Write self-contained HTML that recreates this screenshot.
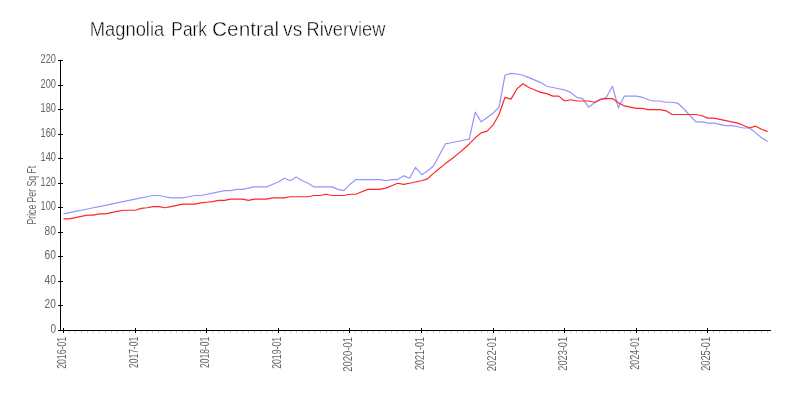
<!DOCTYPE html>
<html><head><meta charset="utf-8"><style>
html,body{margin:0;padding:0;background:#fff;}
body{width:800px;height:400px;overflow:hidden;}
svg{display:block;font-family:"Liberation Sans",sans-serif;will-change:transform;}
.ax{stroke:#000;stroke-width:1;shape-rendering:crispEdges;}
.mt{stroke:#d0d0d0;stroke-width:1;shape-rendering:crispEdges;}
.tl{font-size:12.5px;fill:#666;}
</style></head><body>
<svg width="800" height="400" viewBox="0 0 800 400">
<rect width="800" height="400" fill="#fff"/>
<g font-size="20.5" fill="#000" stroke="#fff" stroke-width="0.45"><text x="89.80" y="35.8" textLength="74.40" lengthAdjust="spacingAndGlyphs">Magnolia</text><text x="171.30" y="35.8" textLength="35.70" lengthAdjust="spacingAndGlyphs">Park</text><text x="212.10" y="35.8" textLength="67.10" lengthAdjust="spacingAndGlyphs">Central</text><text x="283.10" y="35.8" textLength="19.10" lengthAdjust="spacingAndGlyphs">vs</text><text x="306.60" y="35.8" textLength="78.70" lengthAdjust="spacingAndGlyphs">Riverview</text></g>
<text transform="translate(36.2,195.2) rotate(-90)" font-size="12.5" fill="#666" text-anchor="middle" textLength="58.5" lengthAdjust="spacingAndGlyphs">Price Per Sq Ft</text>
<line x1="60.5" y1="60" x2="60.5" y2="331" class="ax"/>
<line x1="58" y1="330.5" x2="771" y2="330.5" class="ax"/>
<line x1="58" y1="330.5" x2="63" y2="330.5" class="ax"/>
<text x="56" y="332.7" class="tl" text-anchor="end" textLength="5.6" lengthAdjust="spacingAndGlyphs">0</text>
<line x1="58" y1="305.5" x2="63" y2="305.5" class="ax"/>
<text x="56" y="307.7" class="tl" text-anchor="end" textLength="11.4" lengthAdjust="spacingAndGlyphs">20</text>
<line x1="58" y1="281.5" x2="63" y2="281.5" class="ax"/>
<text x="56" y="283.7" class="tl" text-anchor="end" textLength="11.4" lengthAdjust="spacingAndGlyphs">40</text>
<line x1="58" y1="256.5" x2="63" y2="256.5" class="ax"/>
<text x="56" y="258.7" class="tl" text-anchor="end" textLength="11.4" lengthAdjust="spacingAndGlyphs">60</text>
<line x1="58" y1="232.5" x2="63" y2="232.5" class="ax"/>
<text x="56" y="234.7" class="tl" text-anchor="end" textLength="11.4" lengthAdjust="spacingAndGlyphs">80</text>
<line x1="58" y1="207.5" x2="63" y2="207.5" class="ax"/>
<text x="56" y="209.7" class="tl" text-anchor="end" textLength="15.4" lengthAdjust="spacingAndGlyphs">100</text>
<line x1="58" y1="183.5" x2="63" y2="183.5" class="ax"/>
<text x="56" y="185.7" class="tl" text-anchor="end" textLength="15.4" lengthAdjust="spacingAndGlyphs">120</text>
<line x1="58" y1="158.5" x2="63" y2="158.5" class="ax"/>
<text x="56" y="160.7" class="tl" text-anchor="end" textLength="15.4" lengthAdjust="spacingAndGlyphs">140</text>
<line x1="58" y1="134.5" x2="63" y2="134.5" class="ax"/>
<text x="56" y="136.7" class="tl" text-anchor="end" textLength="15.4" lengthAdjust="spacingAndGlyphs">160</text>
<line x1="58" y1="109.5" x2="63" y2="109.5" class="ax"/>
<text x="56" y="111.7" class="tl" text-anchor="end" textLength="15.4" lengthAdjust="spacingAndGlyphs">180</text>
<line x1="58" y1="85.5" x2="63" y2="85.5" class="ax"/>
<text x="56" y="87.7" class="tl" text-anchor="end" textLength="15.4" lengthAdjust="spacingAndGlyphs">200</text>
<line x1="58" y1="60.5" x2="63" y2="60.5" class="ax"/>
<text x="56" y="62.7" class="tl" text-anchor="end" textLength="15.4" lengthAdjust="spacingAndGlyphs">220</text>
<line x1="63.5" y1="328" x2="63.5" y2="333" class="ax"/>
<text transform="translate(66.3,336.9) rotate(-90)" class="tl" text-anchor="end" textLength="31.900000000000002" lengthAdjust="spacingAndGlyphs">2016-01</text>
<line x1="69.5" y1="331" x2="69.5" y2="333" class="mt"/>
<line x1="75.5" y1="331" x2="75.5" y2="333" class="mt"/>
<line x1="81.5" y1="331" x2="81.5" y2="333" class="mt"/>
<line x1="87.5" y1="331" x2="87.5" y2="333" class="mt"/>
<line x1="93.5" y1="331" x2="93.5" y2="333" class="mt"/>
<line x1="99.5" y1="331" x2="99.5" y2="333" class="mt"/>
<line x1="105.5" y1="331" x2="105.5" y2="333" class="mt"/>
<line x1="111.5" y1="331" x2="111.5" y2="333" class="mt"/>
<line x1="117.5" y1="331" x2="117.5" y2="333" class="mt"/>
<line x1="123.5" y1="331" x2="123.5" y2="333" class="mt"/>
<line x1="129.5" y1="331" x2="129.5" y2="333" class="mt"/>
<line x1="135.5" y1="328" x2="135.5" y2="333" class="ax"/>
<text transform="translate(138.3,336.9) rotate(-90)" class="tl" text-anchor="end" textLength="31.1" lengthAdjust="spacingAndGlyphs">2017-01</text>
<line x1="141.5" y1="331" x2="141.5" y2="333" class="mt"/>
<line x1="147.5" y1="331" x2="147.5" y2="333" class="mt"/>
<line x1="152.5" y1="331" x2="152.5" y2="333" class="mt"/>
<line x1="158.5" y1="331" x2="158.5" y2="333" class="mt"/>
<line x1="164.5" y1="331" x2="164.5" y2="333" class="mt"/>
<line x1="170.5" y1="331" x2="170.5" y2="333" class="mt"/>
<line x1="176.5" y1="331" x2="176.5" y2="333" class="mt"/>
<line x1="182.5" y1="331" x2="182.5" y2="333" class="mt"/>
<line x1="188.5" y1="331" x2="188.5" y2="333" class="mt"/>
<line x1="194.5" y1="331" x2="194.5" y2="333" class="mt"/>
<line x1="200.5" y1="331" x2="200.5" y2="333" class="mt"/>
<line x1="206.5" y1="328" x2="206.5" y2="333" class="ax"/>
<text transform="translate(209.3,336.9) rotate(-90)" class="tl" text-anchor="end" textLength="31.1" lengthAdjust="spacingAndGlyphs">2018-01</text>
<line x1="212.5" y1="331" x2="212.5" y2="333" class="mt"/>
<line x1="218.5" y1="331" x2="218.5" y2="333" class="mt"/>
<line x1="224.5" y1="331" x2="224.5" y2="333" class="mt"/>
<line x1="230.5" y1="331" x2="230.5" y2="333" class="mt"/>
<line x1="236.5" y1="331" x2="236.5" y2="333" class="mt"/>
<line x1="242.5" y1="331" x2="242.5" y2="333" class="mt"/>
<line x1="248.5" y1="331" x2="248.5" y2="333" class="mt"/>
<line x1="254.5" y1="331" x2="254.5" y2="333" class="mt"/>
<line x1="260.5" y1="331" x2="260.5" y2="333" class="mt"/>
<line x1="266.5" y1="331" x2="266.5" y2="333" class="mt"/>
<line x1="272.5" y1="331" x2="272.5" y2="333" class="mt"/>
<line x1="278.5" y1="328" x2="278.5" y2="333" class="ax"/>
<text transform="translate(281.3,336.9) rotate(-90)" class="tl" text-anchor="end" textLength="31.900000000000002" lengthAdjust="spacingAndGlyphs">2019-01</text>
<line x1="284.5" y1="331" x2="284.5" y2="333" class="mt"/>
<line x1="290.5" y1="331" x2="290.5" y2="333" class="mt"/>
<line x1="296.5" y1="331" x2="296.5" y2="333" class="mt"/>
<line x1="302.5" y1="331" x2="302.5" y2="333" class="mt"/>
<line x1="308.5" y1="331" x2="308.5" y2="333" class="mt"/>
<line x1="314.5" y1="331" x2="314.5" y2="333" class="mt"/>
<line x1="320.5" y1="331" x2="320.5" y2="333" class="mt"/>
<line x1="326.5" y1="331" x2="326.5" y2="333" class="mt"/>
<line x1="331.5" y1="331" x2="331.5" y2="333" class="mt"/>
<line x1="337.5" y1="331" x2="337.5" y2="333" class="mt"/>
<line x1="343.5" y1="331" x2="343.5" y2="333" class="mt"/>
<line x1="349.5" y1="328" x2="349.5" y2="333" class="ax"/>
<text transform="translate(352.3,336.9) rotate(-90)" class="tl" text-anchor="end" textLength="34.8" lengthAdjust="spacingAndGlyphs">2020-01</text>
<line x1="355.5" y1="331" x2="355.5" y2="333" class="mt"/>
<line x1="361.5" y1="331" x2="361.5" y2="333" class="mt"/>
<line x1="367.5" y1="331" x2="367.5" y2="333" class="mt"/>
<line x1="373.5" y1="331" x2="373.5" y2="333" class="mt"/>
<line x1="379.5" y1="331" x2="379.5" y2="333" class="mt"/>
<line x1="385.5" y1="331" x2="385.5" y2="333" class="mt"/>
<line x1="391.5" y1="331" x2="391.5" y2="333" class="mt"/>
<line x1="397.5" y1="331" x2="397.5" y2="333" class="mt"/>
<line x1="403.5" y1="331" x2="403.5" y2="333" class="mt"/>
<line x1="409.5" y1="331" x2="409.5" y2="333" class="mt"/>
<line x1="415.5" y1="331" x2="415.5" y2="333" class="mt"/>
<line x1="421.5" y1="328" x2="421.5" y2="333" class="ax"/>
<text transform="translate(424.3,336.9) rotate(-90)" class="tl" text-anchor="end" textLength="33.1" lengthAdjust="spacingAndGlyphs">2021-01</text>
<line x1="427.5" y1="331" x2="427.5" y2="333" class="mt"/>
<line x1="433.5" y1="331" x2="433.5" y2="333" class="mt"/>
<line x1="439.5" y1="331" x2="439.5" y2="333" class="mt"/>
<line x1="445.5" y1="331" x2="445.5" y2="333" class="mt"/>
<line x1="451.5" y1="331" x2="451.5" y2="333" class="mt"/>
<line x1="457.5" y1="331" x2="457.5" y2="333" class="mt"/>
<line x1="463.5" y1="331" x2="463.5" y2="333" class="mt"/>
<line x1="469.5" y1="331" x2="469.5" y2="333" class="mt"/>
<line x1="475.5" y1="331" x2="475.5" y2="333" class="mt"/>
<line x1="481.5" y1="331" x2="481.5" y2="333" class="mt"/>
<line x1="487.5" y1="331" x2="487.5" y2="333" class="mt"/>
<line x1="493.5" y1="328" x2="493.5" y2="333" class="ax"/>
<text transform="translate(496.3,336.9) rotate(-90)" class="tl" text-anchor="end" textLength="34.3" lengthAdjust="spacingAndGlyphs">2022-01</text>
<line x1="499.5" y1="331" x2="499.5" y2="333" class="mt"/>
<line x1="505.5" y1="331" x2="505.5" y2="333" class="mt"/>
<line x1="510.5" y1="331" x2="510.5" y2="333" class="mt"/>
<line x1="516.5" y1="331" x2="516.5" y2="333" class="mt"/>
<line x1="522.5" y1="331" x2="522.5" y2="333" class="mt"/>
<line x1="528.5" y1="331" x2="528.5" y2="333" class="mt"/>
<line x1="534.5" y1="331" x2="534.5" y2="333" class="mt"/>
<line x1="540.5" y1="331" x2="540.5" y2="333" class="mt"/>
<line x1="546.5" y1="331" x2="546.5" y2="333" class="mt"/>
<line x1="552.5" y1="331" x2="552.5" y2="333" class="mt"/>
<line x1="558.5" y1="331" x2="558.5" y2="333" class="mt"/>
<line x1="564.5" y1="328" x2="564.5" y2="333" class="ax"/>
<text transform="translate(567.3,336.9) rotate(-90)" class="tl" text-anchor="end" textLength="33.8" lengthAdjust="spacingAndGlyphs">2023-01</text>
<line x1="570.5" y1="331" x2="570.5" y2="333" class="mt"/>
<line x1="576.5" y1="331" x2="576.5" y2="333" class="mt"/>
<line x1="582.5" y1="331" x2="582.5" y2="333" class="mt"/>
<line x1="588.5" y1="331" x2="588.5" y2="333" class="mt"/>
<line x1="594.5" y1="331" x2="594.5" y2="333" class="mt"/>
<line x1="600.5" y1="331" x2="600.5" y2="333" class="mt"/>
<line x1="606.5" y1="331" x2="606.5" y2="333" class="mt"/>
<line x1="612.5" y1="331" x2="612.5" y2="333" class="mt"/>
<line x1="618.5" y1="331" x2="618.5" y2="333" class="mt"/>
<line x1="624.5" y1="331" x2="624.5" y2="333" class="mt"/>
<line x1="630.5" y1="331" x2="630.5" y2="333" class="mt"/>
<line x1="636.5" y1="328" x2="636.5" y2="333" class="ax"/>
<text transform="translate(639.3,336.9) rotate(-90)" class="tl" text-anchor="end" textLength="32.8" lengthAdjust="spacingAndGlyphs">2024-01</text>
<line x1="642.5" y1="331" x2="642.5" y2="333" class="mt"/>
<line x1="648.5" y1="331" x2="648.5" y2="333" class="mt"/>
<line x1="654.5" y1="331" x2="654.5" y2="333" class="mt"/>
<line x1="660.5" y1="331" x2="660.5" y2="333" class="mt"/>
<line x1="666.5" y1="331" x2="666.5" y2="333" class="mt"/>
<line x1="672.5" y1="331" x2="672.5" y2="333" class="mt"/>
<line x1="678.5" y1="331" x2="678.5" y2="333" class="mt"/>
<line x1="684.5" y1="331" x2="684.5" y2="333" class="mt"/>
<line x1="689.5" y1="331" x2="689.5" y2="333" class="mt"/>
<line x1="695.5" y1="331" x2="695.5" y2="333" class="mt"/>
<line x1="701.5" y1="331" x2="701.5" y2="333" class="mt"/>
<line x1="707.5" y1="328" x2="707.5" y2="333" class="ax"/>
<text transform="translate(710.3,336.9) rotate(-90)" class="tl" text-anchor="end" textLength="33.9" lengthAdjust="spacingAndGlyphs">2025-01</text>
<line x1="713.5" y1="331" x2="713.5" y2="333" class="mt"/>
<line x1="719.5" y1="331" x2="719.5" y2="333" class="mt"/>
<line x1="725.5" y1="331" x2="725.5" y2="333" class="mt"/>
<line x1="731.5" y1="331" x2="731.5" y2="333" class="mt"/>
<line x1="737.5" y1="331" x2="737.5" y2="333" class="mt"/>
<line x1="743.5" y1="331" x2="743.5" y2="333" class="mt"/>
<line x1="749.5" y1="331" x2="749.5" y2="333" class="mt"/>
<line x1="755.5" y1="331" x2="755.5" y2="333" class="mt"/>
<line x1="761.5" y1="331" x2="761.5" y2="333" class="mt"/>
<line x1="767.5" y1="331" x2="767.5" y2="333" class="mt"/>
<polyline points="63.50,213.91 69.47,212.68 75.43,211.45 81.40,210.23 87.37,209.00 93.33,207.77 99.30,206.55 105.27,205.32 111.23,204.09 117.20,202.86 123.17,201.64 129.13,200.41 135.10,199.18 141.07,197.95 147.03,196.73 153.00,195.50 158.97,195.50 164.93,196.73 170.90,197.95 176.87,197.95 182.83,197.95 188.80,196.73 194.77,195.50 200.73,195.50 206.70,194.27 212.67,193.05 218.63,191.82 224.60,190.59 230.57,190.59 236.53,189.36 242.50,189.36 248.47,188.14 254.43,186.91 260.40,186.91 266.37,186.91 272.33,184.45 278.30,182.00 284.27,178.32 290.23,180.77 296.20,177.09 302.17,180.77 308.13,183.23 314.10,186.91 320.07,186.91 326.03,186.91 332.00,186.91 337.97,189.36 343.93,190.59 349.90,184.45 355.87,179.55 361.83,179.55 367.80,179.55 373.77,179.55 379.73,179.55 385.70,180.77 391.67,179.55 397.63,179.55 403.60,175.86 409.57,178.32 415.53,167.27 421.50,174.64 427.47,170.95 433.43,166.05 439.40,155.00 445.37,143.95 451.33,142.73 457.30,141.50 463.27,140.27 469.23,139.05 475.20,112.05 481.17,121.86 487.13,117.57 493.10,113.27 499.07,107.14 505.03,75.23 511.00,73.39 516.97,74.00 522.93,75.23 528.90,77.68 534.87,80.14 540.83,82.59 546.80,86.27 552.77,87.50 558.73,88.73 564.70,89.95 570.67,92.41 576.63,97.32 582.60,98.55 588.57,107.14 594.53,102.84 600.50,99.77 606.47,97.32 612.43,86.27 618.40,107.75 624.37,96.09 630.33,96.09 636.30,96.09 642.27,97.32 648.23,99.77 654.20,101.00 660.17,101.00 666.13,102.23 672.10,102.23 678.07,103.45 684.03,108.98 690.00,115.73 695.97,121.86 701.93,121.86 707.90,123.09 713.87,123.09 719.83,124.32 725.80,125.55 731.77,125.55 737.73,126.77 743.70,128.00 749.67,128.00 755.63,132.91 761.60,137.82 767.57,141.50" fill="none" stroke="#9494ff" stroke-width="1.2" stroke-linejoin="round"/>
<polyline points="63.50,218.82 69.47,218.82 75.43,217.59 81.40,216.36 87.37,215.14 93.33,215.14 99.30,213.91 105.27,213.91 111.23,212.68 117.20,211.45 123.17,210.23 129.13,210.23 135.10,210.23 141.07,208.39 147.03,207.77 153.00,206.55 158.97,206.55 164.93,207.77 170.90,206.55 176.87,205.32 182.83,204.09 188.80,204.09 194.77,204.09 200.73,202.86 206.70,202.25 212.67,201.64 218.63,200.41 224.60,200.41 230.57,199.18 236.53,199.18 242.50,199.18 248.47,200.41 254.43,199.18 260.40,199.18 266.37,199.18 272.33,197.95 278.30,197.95 284.27,197.95 290.23,196.73 296.20,196.73 302.17,196.73 308.13,196.73 314.10,195.50 320.07,195.50 326.03,194.27 332.00,195.50 337.97,195.50 343.93,195.50 349.90,194.27 355.87,194.27 361.83,191.82 367.80,189.36 373.77,189.36 379.73,189.36 385.70,188.14 391.67,185.68 397.63,183.23 403.60,184.45 409.57,183.23 415.53,182.00 421.50,180.77 427.47,178.93 433.43,173.41 439.40,168.50 445.37,163.59 451.33,159.30 457.30,154.39 463.27,149.48 469.23,143.95 475.20,137.82 481.17,132.91 487.13,131.07 493.10,124.93 499.07,114.50 505.03,97.32 511.00,99.16 516.97,88.73 522.93,83.82 528.90,87.50 534.87,89.95 540.83,92.41 546.80,93.64 552.77,96.09 558.73,96.09 564.70,101.00 570.67,99.77 576.63,101.00 582.60,101.00 588.57,101.00 594.53,102.23 600.50,99.16 606.47,98.55 612.43,98.55 618.40,102.84 624.37,105.91 630.33,107.14 636.30,108.36 642.27,108.36 648.23,109.59 654.20,109.59 660.17,109.59 666.13,110.82 672.10,114.50 678.07,114.50 684.03,114.50 690.00,114.50 695.97,114.50 701.93,115.73 707.90,118.18 713.87,118.18 719.83,119.41 725.80,120.64 731.77,121.86 737.73,123.09 743.70,125.55 749.67,128.00 755.63,126.16 761.60,129.23 767.57,131.68" fill="none" stroke="#ff2626" stroke-width="1.2" stroke-linejoin="round"/>
</svg>
</body></html>
